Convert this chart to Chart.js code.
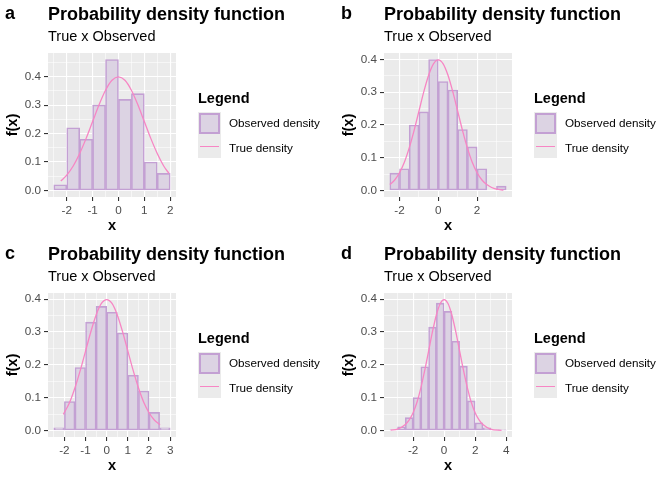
<!DOCTYPE html>
<html>
<head>
<meta charset="utf-8">
<script src="https://cdn.jsdelivr.net/npm/chart.js@4.4.0/dist/chart.umd.min.js"></script>
<style>
    body { margin: 0; width: 672px; height: 480px; background: #fff; position: relative; overflow: hidden;
           font-family: "Liberation Sans", Arial, Helvetica, sans-serif; color: #000; }
    .panel { position: absolute; width: 336px; height: 240px; }
    .panel canvas { position: absolute; left: 0; top: 0; }
    .tag   { position: absolute; left: 5px;  top: 4px;  font-weight: bold; font-size: 18px; line-height: 18px; }
    .title { position: absolute; left: 48px; top: 5px;  font-weight: bold; font-size: 18px; line-height: 18px; white-space: nowrap; }
    .sub   { position: absolute; left: 48px; top: 29px; font-size: 14.5px; line-height: 15px; white-space: nowrap; }
    .lg-title { position: absolute; left: 198px; top: 91px; font-weight: bold; font-size: 14.5px; line-height: 15px; }
    .lg-key { position: absolute; left: 198px; width: 23px; height: 23px; background: #EBEBEB; }
    .lg-box { position: absolute; left: 1px; top: 1px; width: 17px; height: 17px; background: #DCD3E3; border: 2px solid #C3A0D3; }
    .lg-line { position: absolute; left: 2px; top: 11px; width: 19px; height: 1.4px; background: #F786C4; }
    .lg-text { position: absolute; left: 229px; font-size: 11.7px; line-height: 12px; white-space: nowrap; }
</style>
</head>
<body>

<script>
/* ---------- données ---------- */

// a : milieux des classes et densités observées
const binsA = [-2.25, -1.75, -1.25, -0.75, -0.25, 0.25, 0.75, 1.25, 1.75];
const densA = [0.02, 0.22, 0.18, 0.30, 0.46, 0.32, 0.34, 0.10, 0.06];
const curveXA = [-2.23, -2, -1.75, -1.5, -1.25, -1, -0.75, -0.5, -0.25, 0, 0.25, 0.5, 0.75, 1, 1.25, 1.5, 1.75, 1.95];
const curveYA = [0.033, 0.054, 0.086, 0.130, 0.183, 0.242, 0.301, 0.352, 0.387, 0.399, 0.387, 0.352, 0.301, 0.242, 0.183, 0.130, 0.086, 0.060];
const xTicksA = [-2, -1, 0, 1, 2];

// b
const binsB = [-2.25, -1.75, -1.25, -0.75, -0.25, 0.25, 0.75, 1.25, 1.75, 2.25, 2.75, 3.25];
const densB = [0.053, 0.066, 0.200, 0.240, 0.400, 0.333, 0.307, 0.186, 0.133, 0.066, 0, 0.013];
const curveXB = [-2.5, -2.25, -2, -1.75, -1.5, -1.25, -1, -0.75, -0.5, -0.25, 0, 0.25, 0.5, 0.75, 1, 1.25, 1.5, 1.75, 2, 2.25, 2.5, 2.75, 3, 3.36];
const curveYB = [0.018, 0.032, 0.054, 0.086, 0.130, 0.183, 0.242, 0.301, 0.352, 0.387, 0.399, 0.387, 0.352, 0.301, 0.242, 0.183, 0.130, 0.086, 0.054, 0.032, 0.018, 0.009, 0.004, 0.001];
const xTicksB = [-2, 0, 2];

// c
const binsC = [-2.25, -1.75, -1.25, -0.75, -0.25, 0.25, 0.75, 1.25, 1.75, 2.25, 2.75];
const densC = [0.008, 0.088, 0.192, 0.330, 0.378, 0.360, 0.297, 0.168, 0.120, 0.055, 0.008];
const curveXC = [-2.05, -1.75, -1.5, -1.25, -1, -0.75, -0.5, -0.25, 0, 0.25, 0.5, 0.75, 1, 1.25, 1.5, 1.75, 2, 2.25, 2.52];
const curveYC = [0.049, 0.086, 0.130, 0.183, 0.242, 0.301, 0.352, 0.387, 0.399, 0.387, 0.352, 0.301, 0.242, 0.183, 0.130, 0.086, 0.054, 0.032, 0.017];
const xTicksC = [-2, -1, 0, 1, 2, 3];

// d
const binsD = [-3.25, -2.75, -2.25, -1.75, -1.25, -0.75, -0.25, 0.25, 0.75, 1.25, 1.75, 2.25, 2.75, 3.25, 3.75];
const densD = [0.002, 0.011, 0.039, 0.100, 0.194, 0.315, 0.388, 0.363, 0.272, 0.196, 0.090, 0.023, 0.008, 0.002, 0.001];
const curveXD = [-3.45, -3, -2.5, -2.25, -2, -1.75, -1.5, -1.25, -1, -0.75, -0.5, -0.25, 0, 0.25, 0.5, 0.75, 1, 1.25, 1.5, 1.75, 2, 2.25, 2.5, 3, 3.7];
const curveYD = [0.001, 0.004, 0.018, 0.032, 0.054, 0.086, 0.130, 0.183, 0.242, 0.301, 0.352, 0.387, 0.399, 0.387, 0.352, 0.301, 0.242, 0.183, 0.130, 0.086, 0.054, 0.032, 0.018, 0.004, 0.000];
const xTicksD = [-2, 0, 2, 4];

const yTicks   = [0, 0.1, 0.2, 0.3, 0.4];
const binWidth = 0.5;
const tags     = ['a', 'b', 'c', 'd'];

const panels = [
    { bins: binsA, dens: densA, cx: curveXA, cy: curveYA, xt: xTicksA },
    { bins: binsB, dens: densB, cx: curveXB, cy: curveYB, xt: xTicksB },
    { bins: binsC, dens: densC, cx: curveXC, cy: curveYC, xt: xTicksC },
    { bins: binsD, dens: densD, cx: curveXD, cy: curveYD, xt: xTicksD }
];

/* ---------- aides ---------- */

// fond gris du panneau façon ggplot
const panelBg = {
    id: 'panelBg',
    beforeDraw(chart) {
        const { ctx, chartArea: a } = chart;
        ctx.save();
        ctx.fillStyle = '#EBEBEB';
        ctx.fillRect(a.left, a.top, a.right - a.left, a.bottom - a.top);
        ctx.restore();
    }
};

// graduations majeures + mineures (au milieu), dans les limites
function withMinor(major, min, max) {
    const step = major[1] - major[0];
    const all = major.slice();
    [major[0] - step / 2, ...major.map(v => v + step / 2)].forEach(v => all.push(v));
    return all.filter(v => v >= min && v <= max).sort((a, b) => a - b);
}
const isMajor = (list, v) => list.some(m => Math.abs(m - v) < 1e-9);

function scaleOpts(major, min, max, fmt, isX) {
    const all = withMinor(major, min, max);
    return {
        type: 'linear', min, max, offset: false,
        border: { display: false },
        afterBuildTicks: s => { s.ticks = all.map(v => ({ value: v })); },
        afterFit: s => { if (isX) s.height = 43; else s.width = 48; },
        grid: {
            offset: false,
            color: '#FFFFFF',
            lineWidth: c => (c.tick && isMajor(major, c.tick.value)) ? 1.1 : 0.55,
            tickColor: c => (c.tick && isMajor(major, c.tick.value)) ? '#333333' : 'rgba(0,0,0,0)',
            tickLength: 4,
            tickWidth: 1.1
        },
        ticks: {
            autoSkip: false, maxRotation: 0, padding: 3,
            color: '#4D4D4D',
            font: { family: '"Liberation Sans", Arial, sans-serif', size: 11.7 },
            callback: v => isMajor(major, v) ? fmt(v) : ''
        },
        title: {
            display: true,
            text: isX ? 'x' : 'f(x)',
            color: '#000',
            font: { family: '"Liberation Sans", Arial, sans-serif', size: 14.6, weight: 'bold' },
            padding: isX ? { top: 0, bottom: 5 } : { top: 4, bottom: 0 }
        }
    };
}

/* ---------- construction des 4 panneaux ---------- */

panels.forEach((p, i) => {
    const left = (i % 2) * 336, top = Math.floor(i / 2) * 240;
    const div = document.createElement('div');
    div.className = 'panel';
    div.style.left = left + 'px';
    div.style.top = top + 'px';
    div.innerHTML = `
        <canvas width="336" height="240"></canvas>
        <div class="tag">${tags[i]}</div>
        <div class="title">Probability density function</div>
        <div class="sub">True x Observed</div>
        <div class="lg-title">Legend</div>
        <div class="lg-key" style="top:112px"><div class="lg-box"></div></div>
        <div class="lg-key" style="top:135px"><div class="lg-line"></div></div>
        <div class="lg-text" style="top:117px">Observed density</div>
        <div class="lg-text" style="top:142px">True density</div>`;
    document.body.appendChild(div);

    // limites : étendue des classes + 5 %
    const lo = p.bins[0] - binWidth / 2, hi = p.bins[p.bins.length - 1] + binWidth / 2;
    const xpad = (hi - lo) * 0.05;
    const ymax = Math.max(...p.dens, ...p.cy);

    new Chart(div.querySelector('canvas'), {
        type: 'bar',
        data: {
            datasets: [
                {
                    type: 'line', order: 0,
                    data: p.cx.map((x, k) => ({ x, y: p.cy[k] })),
                    borderColor: '#F786C4', borderWidth: 1.3,
                    pointRadius: 0, cubicInterpolationMode: 'monotone', fill: false
                },
                {
                    type: 'bar', order: 1,
                    data: p.bins.map((x, k) => ({ x, y: p.dens[k] })),
                    backgroundColor: '#DCD3E3', borderColor: '#C3A0D3',
                    borderWidth: 1.6, borderSkipped: false,
                    barPercentage: 1, categoryPercentage: 1
                }
            ]
        },
        options: {
            responsive: false, animation: false,
            layout: { padding: { left: 0, top: 53, right: 160, bottom: 0 } },
            plugins: { legend: { display: false }, tooltip: { enabled: false } },
            scales: {
                x: scaleOpts(p.xt, lo - xpad, hi + xpad, v => String(v), true),
                y: scaleOpts(yTicks, -ymax * 0.05, ymax * 1.05, v => v.toFixed(1), false)
            }
        },
        plugins: [panelBg]
    });
});
</script>
</body>
</html>
